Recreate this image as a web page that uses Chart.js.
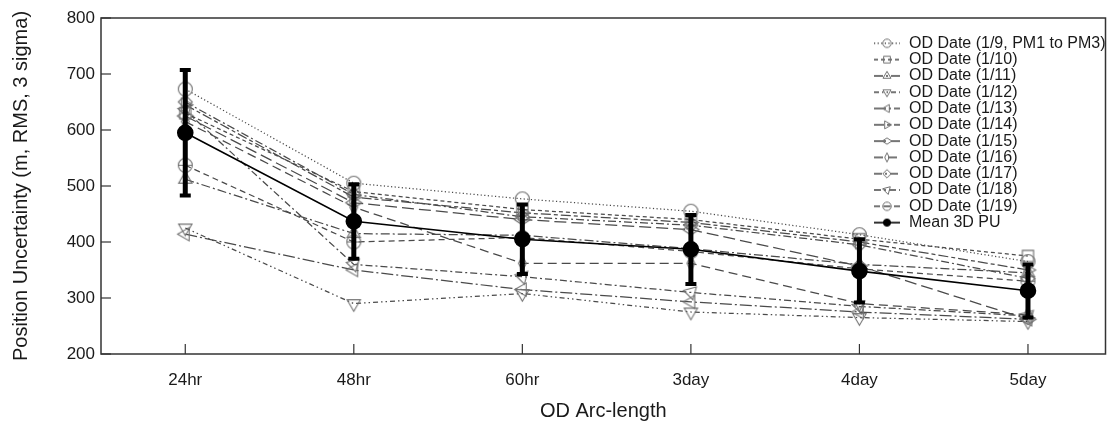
<!DOCTYPE html>
<html><head><meta charset="utf-8">
<script src="https://cdn.jsdelivr.net/npm/chart.js@4.4.1/dist/chart.umd.min.js"></script>
<style>html,body{margin:0;padding:0;background:#fff}#wrap{width:1115px;height:426px}</style>
</head><body><div id="wrap"><canvas id="c" width="1115" height="426"></canvas></div>
<script>
// ---- data ----
const categories = ['24hr','48hr','60hr','3day','4day','5day'];
const od0109 = [673, 505, 477, 455, 413, 365];
const od0110 = [630, 490, 458, 440, 405, 375];
const od0111 = [512, 415, 412, 388, 360, 345];
const od0112 = [425, 290, 308, 275, 265, 258];
const od0113 = [414, 350, 315, 293, 275, 262];
const od0114 = [645, 480, 452, 435, 400, 350];
const od0115 = [625, 470, 440, 422, 357, 262];
const od0116 = [615, 462, 362, 362, 290, 270];
const od0117 = [650, 485, 445, 430, 395, 335];
const od0118 = [635, 360, 338, 310, 285, 268];
const od0119 = [537, 400, 408, 383, 352, 330];
const meanPU   = [595, 437, 405, 387, 348, 313];
const meanLow  = [483, 370, 343, 325, 292, 265];
const meanHigh = [707, 503, 467, 448, 405, 360];
const yTicks = [200, 300, 400, 500, 600, 700, 800];
const seriesLabels = ['OD Date (1/9, PM1 to PM3)','OD Date (1/10)','OD Date (1/11)','OD Date (1/12)','OD Date (1/13)','OD Date (1/14)','OD Date (1/15)','OD Date (1/16)','OD Date (1/17)','OD Date (1/18)','OD Date (1/19)'];
const meanLabel = 'Mean 3D PU';

// ---- styles ----
const seriesValues = [od0109, od0110, od0111, od0112, od0113, od0114, od0115, od0116, od0117, od0118, od0119];
const shapes = ['circle','square','triUp','triDown','triLeft','triRight','diamondWide','diamondThin','diamond','triDownTilt','circleLine'];
const dashes = [[1.2,2.4],[4,3],[9,3,2,3],[5,3,1.5,3,1.5,3],[12,3,2,3],[10,3,4,3],[12,5],[9,5],[8,3,2,3],[7,3,2,3],[6,4]];
const LINE_C = '#4a4a4a', MARK_C = '#707070';
const FONT = "'Liberation Sans', Arial, Helvetica, sans-serif";

function triPath(g, cx, cy, r, a) {
  const d = Math.PI/180;
  g.moveTo(cx + r*Math.cos((a-90)*d), cy + r*Math.sin((a-90)*d));
  g.lineTo(cx + r*Math.cos((a+30)*d), cy + r*Math.sin((a+30)*d));
  g.lineTo(cx + r*Math.cos((a+150)*d), cy + r*Math.sin((a+150)*d));
  g.closePath();
}
function diaPath(g, cx, cy, hw, hh) {
  g.moveTo(cx-hw, cy); g.lineTo(cx, cy-hh); g.lineTo(cx+hw, cy); g.lineTo(cx, cy+hh); g.closePath();
}
function shapePath(g, shape, cx, cy, r) {
  g.beginPath();
  switch (shape) {
    case 'circle': g.arc(cx, cy, r, 0, 2*Math.PI); break;
    case 'square': g.rect(cx-0.8*r, cy-0.8*r, 1.6*r, 1.6*r); break;
    case 'triUp': triPath(g, cx, cy, 1.1*r, 0); break;
    case 'triDown': triPath(g, cx, cy, 1.1*r, 180); break;
    case 'triLeft': triPath(g, cx, cy, 1.1*r, 270); break;
    case 'triRight': triPath(g, cx, cy, 1.1*r, 90); break;
    case 'triDownTilt': triPath(g, cx, cy, 1.1*r, 165); break;
    case 'diamondWide': diaPath(g, cx, cy, 1.15*r, 0.75*r); break;
    case 'diamondThin': diaPath(g, cx, cy, 0.55*r, 1.1*r); break;
    case 'diamond': diaPath(g, cx, cy, r, r); break;
    case 'circleLine': g.arc(cx, cy, r, 0, 2*Math.PI); g.moveTo(cx-r, cy); g.lineTo(cx+r, cy); break;
  }
}
function markerCanvas(shape, r) {
  const s = Math.ceil(r*2.6 + 4);
  const c = document.createElement('canvas'); c.width = s; c.height = s;
  const g = c.getContext('2d');
  shapePath(g, shape, s/2, s/2, r);
  g.strokeStyle = MARK_C; g.lineWidth = 1.1; g.stroke();
  return c;
}
function legendIcon(shape, dash, lineC, markC, filled) {
  const c = document.createElement('canvas'); c.width = 28; c.height = 14;
  const g = c.getContext('2d');
  g.strokeStyle = lineC; g.lineWidth = filled ? 1.6 : 1.3; g.setLineDash(dash);
  g.beginPath(); g.moveTo(1, 7); g.lineTo(27, 7); g.stroke();
  g.setLineDash([]);
  shapePath(g, shape, 14, 7, filled ? 3.6 : 4.2);
  if (filled) { g.fillStyle = markC; g.fill(); }
  g.strokeStyle = markC; g.lineWidth = 1; g.stroke();
  return c;
}

const legendIcons = [];
const datasets = [];
// mean line (drawn on top)
datasets.push({
  label: meanLabel, data: meanPU.map((v, i) => ({x: i, y: v})),
  borderColor: '#000', borderWidth: 1.6, pointStyle: 'circle', pointRadius: 7.5,
  pointBackgroundColor: '#000', pointBorderColor: '#000', tension: 0, order: 0
});
legendIcons.push(legendIcon('circle', [], '#000', '#000', true));
// error bars
categories.forEach((_, i) => {
  datasets.push({
    label: '', data: [{x: i, y: meanLow[i]}, {x: i, y: meanHigh[i]}],
    borderColor: '#000', borderWidth: 5, borderCapStyle: 'butt',
    pointStyle: 'line', pointRadius: 5.5, pointBorderWidth: 4, pointBorderColor: '#000', order: 1
  });
  legendIcons.push(null);
});
// OD series
seriesValues.forEach((vals, k) => {
  datasets.push({
    label: seriesLabels[k], data: vals.map((v, i) => ({x: i, y: v})),
    borderColor: LINE_C, borderWidth: 1.25, borderDash: dashes[k],
    pointStyle: markerCanvas(shapes[k], 7), pointRadius: 7, tension: 0, order: 2
  });
  legendIcons.push(legendIcon(shapes[k], dashes[k], LINE_C, MARK_C, false));
});
const legendOrder = [];
for (let k = 0; k < seriesValues.length; k++) legendOrder.push(1 + categories.length + k);
legendOrder.push(0);

const LEG_PAD = 0.3;
const framePlugin = {
  id: 'frame',
  beforeDatasetsDraw(chart) {
    const {ctx, chartArea: a, scales: {x, y}} = chart;
    ctx.save();
    ctx.strokeStyle = '#333'; ctx.lineWidth = 1.5; ctx.setLineDash([]);
    ctx.strokeRect(a.left, a.top, a.right - a.left, a.bottom - a.top);
    ctx.lineWidth = 1.2;
    x.ticks.forEach(t => { const p = x.getPixelForValue(t.value); ctx.beginPath(); ctx.moveTo(p, a.bottom); ctx.lineTo(p, a.bottom - 10); ctx.stroke(); });
    y.ticks.forEach(t => { const p = y.getPixelForValue(t.value); ctx.beginPath(); ctx.moveTo(a.left, p); ctx.lineTo(a.left + 10, p); ctx.stroke(); });
    ctx.restore();
  }
};
const legendPlace = {
  id: 'legendPlace',
  afterLayout(chart) {
    const lg = chart.legend; if (!lg) return;
    lg.left = 873 - LEG_PAD; lg.top = 35.3 - LEG_PAD;
  }
};

new Chart(document.getElementById('c'), {
  type: 'line',
  data: { datasets },
  plugins: [framePlugin, legendPlace],
  options: {
    responsive: false, devicePixelRatio: 1, animation: false, events: [],
    layout: { padding: { left: 0, right: 2, top: 18, bottom: 0 } },
    plugins: {
      tooltip: { enabled: false },
      legend: {
        position: 'chartArea', align: 'start',
        labels: {
          usePointStyle: true, pointStyleWidth: 28, padding: LEG_PAD, textAlign: 'left',
          color: '#1a1a1a', font: { family: FONT, size: 16 },
          generateLabels(chart) {
            return legendOrder.map(i => ({
              text: chart.data.datasets[i].label, pointStyle: legendIcons[i], rotation: 0,
              datasetIndex: i, hidden: false, fontColor: '#1a1a1a', lineWidth: 0,
              strokeStyle: 'rgba(0,0,0,0)', fillStyle: 'rgba(0,0,0,0)'
            }));
          }
        }
      }
    },
    scales: {
      x: {
        type: 'linear', min: -0.5, max: 5.46,
        afterBuildTicks(s) { s.ticks = categories.map((_, i) => ({value: i})); },
        afterFit(s) { s.height = 72; },
        grid: { display: false }, border: { display: false },
        ticks: { autoSkip: false, maxRotation: 0, padding: 8, color: '#1a1a1a',
          font: { family: FONT, size: 17 }, callback: (v) => categories[v] },
        title: { display: true, text: 'OD Arc-length', color: '#1a1a1a',
          font: { family: FONT, size: 20 }, padding: { top: 0, bottom: 3 } }
      },
      y: {
        type: 'linear', min: 200, max: 800,
        afterBuildTicks(s) { s.ticks = yTicks.map(v => ({value: v})); },
        afterFit(s) { s.width = 101; },
        grid: { display: false, drawTicks: false }, border: { display: false },
        ticks: { padding: 6, color: '#1a1a1a', font: { family: FONT, size: 17 } },
        title: { display: true, text: 'Position Uncertainty (m, RMS, 3 sigma)', color: '#1a1a1a',
          font: { family: FONT, size: 20 }, padding: { top: 9, bottom: 0 } }
      }
    }
  }
});
</script></body></html>
